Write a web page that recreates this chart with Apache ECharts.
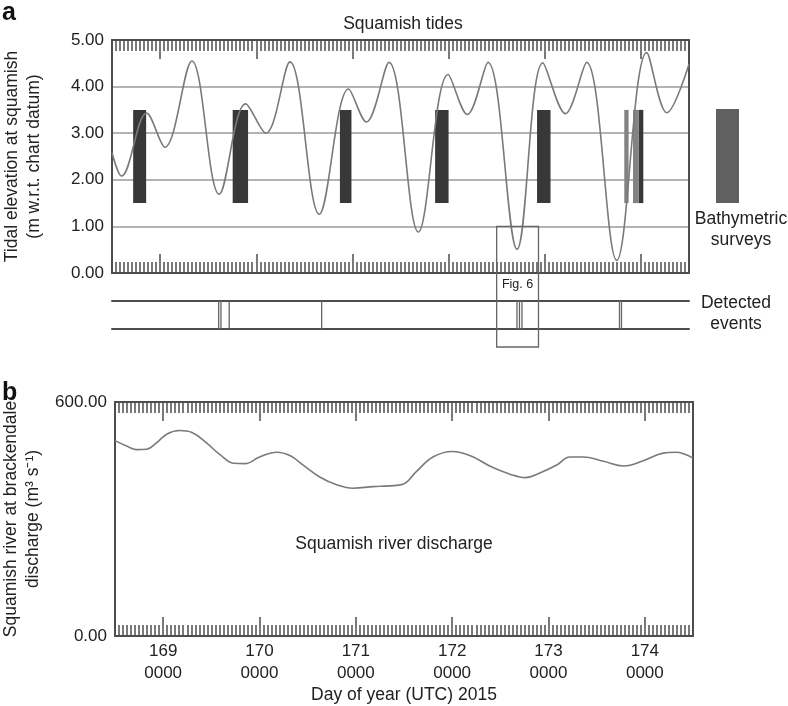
<!DOCTYPE html>
<html>
<head>
<meta charset="utf-8">
<title>Squamish tides</title>
<script src="https://cdn.jsdelivr.net/npm/echarts@6/dist/echarts.min.js"></script>
<style>
  html, body { margin: 0; padding: 0; background: #fff; }
  #chart { width: 788px; height: 706px; }
</style>
</head>
<body>
<div id="chart"></div>
<script>
// tide highs and lows (day of year, metres)
const tideDay = [168.50, 168.60, 168.86, 169.05, 169.33, 169.615, 169.89, 170.10, 170.35, 170.655,
  170.96, 171.145, 171.38, 171.685, 171.995, 172.195, 172.41, 172.712, 172.98, 173.215,
  173.435, 173.748, 174.06, 174.27, 174.50];
const tideLevel = [2.58, 2.08, 3.43, 2.70, 4.55, 1.69, 3.63, 3.00, 4.53, 1.26,
  3.95, 3.24, 4.52, 0.88, 4.26, 3.40, 4.52, 0.51, 4.51, 3.42,
  4.52, 0.27, 4.73, 3.44, 4.48];

// river discharge (m3/s)
const riverDay = [168.5, 168.62, 168.72, 168.83, 168.93, 169.04, 169.17, 169.3, 169.45, 169.59,
  169.73, 169.85, 170.0, 170.18, 170.32, 170.45, 170.63, 170.8, 170.97, 171.18,
  171.35, 171.49, 171.63, 171.8, 172.0, 172.19, 172.39, 172.6, 172.76, 172.91,
  173.09, 173.22, 173.36, 173.57, 173.78, 173.99, 174.19, 174.32, 174.5];
const riverFlow = [501, 487, 478, 479, 495, 518, 527, 522, 495, 465,
  443, 442, 459, 471, 462, 439, 407, 388, 379, 383,
  385, 389, 422, 459, 473, 462, 436, 415, 406, 418,
  439, 459, 459, 448, 436, 450, 469, 471, 456];

// bathymetric surveys (start / end day)
const surveyStart = [168.72, 169.755, 170.87, 171.86, 172.92, 173.975];
const surveyEnd = [168.855, 169.915, 170.99, 172.0, 173.06, 174.025];
const partialStart = [173.827, 173.918];
const partialEnd = [173.872, 173.975];

// detected events
const eventDay = [169.609, 169.633, 169.719, 170.68, 172.711, 172.737, 172.763, 173.777, 173.798];
const fig6Window = [172.5, 172.935];

// axis ticks
const dayTicks = [169, 170, 171, 172, 173, 174];
const dayTickLabels = ['169\n0000', '170\n0000', '171\n0000', '172\n0000', '173\n0000', '174\n0000'];
const dayMin = 168.5, dayMax = 174.5;

const FONT = "'Liberation Sans', Arial, sans-serif";
const INK = '#222';
const FRAME = '#4d4d4d';
const SURVEY_LOW = 1.5, SURVEY_HIGH = 3.5;

const hourTicks = [];
for (let k = 0; k <= 144; k++) hourTicks.push(dayMin + k / 24);

function xFrame(grid, position, ticks, len, showLine) {
    return {
        type: 'value', gridIndex: grid, position: position, min: dayMin, max: dayMax,
        axisLine: { show: showLine, onZero: false, lineStyle: { color: FRAME, width: 2 } },
        axisTick: ticks ? { show: true, inside: true, length: len, customValues: ticks,
            lineStyle: { color: FRAME, width: 1.5 } } : { show: false },
        axisLabel: { show: false },
        splitLine: { show: false }
    };
}

function rightFrame(grid) {
    return {
        type: 'value', gridIndex: grid, position: 'right',
        axisLine: { show: true, onZero: false, lineStyle: { color: FRAME, width: 2 } },
        axisTick: { show: false }, axisLabel: { show: false }, splitLine: { show: false }
    };
}

function surveyRenderer(fill) {
    return function (params, api) {
        const a = api.coord([api.value(0), SURVEY_HIGH]);
        const b = api.coord([api.value(1), SURVEY_LOW]);
        return { type: 'rect', shape: { x: a[0], y: a[1], width: b[0] - a[0], height: b[1] - a[1] },
            style: { fill: fill } };
    };
}

const bottomLabelAxis = xFrame(2, 'bottom', hourTicks, 11, true);
bottomLabelAxis.axisLabel = {
    show: true, customValues: dayTicks,
    formatter: function (v) { return dayTickLabels[dayTicks.indexOf(Math.round(v))]; },
    fontSize: 17, lineHeight: 22, margin: 4, color: INK, fontFamily: FONT
};
bottomLabelAxis.name = 'Day of year (UTC) 2015';
bottomLabelAxis.nameLocation = 'middle';
bottomLabelAxis.nameGap = 50;
bottomLabelAxis.nameTextStyle = { fontSize: 17.5, color: INK, fontFamily: FONT };

const option = {
    animation: false,
    backgroundColor: '#fff',
    textStyle: { fontFamily: FONT },
    grid: [
        { left: 112, top: 40, width: 577, height: 233, containLabel: false, outerBoundsMode: 'none' },
        { left: 112, top: 301, width: 577, height: 28, containLabel: false, outerBoundsMode: 'none' },
        { left: 115, top: 402, width: 578, height: 234, containLabel: false, outerBoundsMode: 'none' }
    ],
    xAxis: [
        xFrame(0, 'bottom', hourTicks, 11, true),
        xFrame(0, 'bottom', dayTicks, 19, false),
        xFrame(0, 'top', hourTicks, 11, true),
        xFrame(0, 'top', dayTicks, 19, false),
        xFrame(1, 'bottom', null, 0, true),
        xFrame(1, 'top', null, 0, true),
        bottomLabelAxis,
        xFrame(2, 'bottom', dayTicks, 19, false),
        xFrame(2, 'top', hourTicks, 11, true),
        xFrame(2, 'top', dayTicks, 19, false)
    ],
    yAxis: [
        {
            type: 'value', gridIndex: 0, min: 0, max: 5, interval: 1,
            name: 'Tidal elevation at squamish\n(m w.r.t. chart datum)',
            nameLocation: 'middle', nameGap: 67,
            nameTextStyle: { fontSize: 17.5, lineHeight: 22, color: INK, fontFamily: FONT },
            axisLine: { show: true, onZero: false, lineStyle: { color: FRAME, width: 2 } },
            axisTick: { show: false },
            axisLabel: { fontSize: 17, color: INK, margin: 8, fontFamily: FONT,
                formatter: function (v) { return v.toFixed(2); } },
            splitLine: { show: true, lineStyle: { color: '#9a9a9a', width: 1.5 } }
        },
        rightFrame(0),
        { type: 'value', gridIndex: 1, min: 0, max: 1, show: false },
        {
            type: 'value', gridIndex: 2, min: 0, max: 600, interval: 600,
            name: 'Squamish river at brackendale\ndischarge (m³ s⁻¹)',
            nameLocation: 'middle', nameGap: 70,
            nameTextStyle: { fontSize: 17.5, lineHeight: 22, color: INK, fontFamily: FONT },
            axisLine: { show: true, onZero: false, lineStyle: { color: FRAME, width: 2 } },
            axisTick: { show: false },
            axisLabel: { fontSize: 17, color: INK, margin: 8, fontFamily: FONT,
                formatter: function (v) { return v.toFixed(2); } },
            splitLine: { show: false }
        },
        rightFrame(2)
    ],
    series: [
        {
            name: 'Bathymetric surveys', type: 'custom', xAxisIndex: 0, yAxisIndex: 0, z: 1,
            renderItem: surveyRenderer('#383838'),
            data: surveyStart.map(function (s, i) { return [s, surveyEnd[i]]; })
        },
        {
            name: 'Partial surveys', type: 'custom', xAxisIndex: 0, yAxisIndex: 0, z: 1,
            renderItem: surveyRenderer('#828282'),
            data: partialStart.map(function (s, i) { return [s, partialEnd[i]]; })
        },
        {
            name: 'Squamish tides', type: 'line', xAxisIndex: 0, yAxisIndex: 0, z: 3,
            showSymbol: false, smooth: 0.36,
            lineStyle: { color: '#7a7a7a', width: 1.6 },
            data: tideDay.map(function (d, i) { return [d, tideLevel[i]]; })
        },
        {
            name: 'Detected events', type: 'custom', xAxisIndex: 4, yAxisIndex: 2,
            renderItem: function (params, api) {
                const a = api.coord([api.value(0), 0]);
                const b = api.coord([api.value(0), 1]);
                return { type: 'line', shape: { x1: a[0], y1: a[1], x2: b[0], y2: b[1] },
                    style: { stroke: '#666', lineWidth: 1.3 } };
            },
            data: eventDay.map(function (d) { return [d]; })
        },
        {
            name: 'Squamish river discharge', type: 'line', xAxisIndex: 6, yAxisIndex: 3,
            showSymbol: false, smooth: 0.4,
            lineStyle: { color: '#7a7a7a', width: 1.6 },
            data: riverDay.map(function (d, i) { return [d, riverFlow[i]]; })
        }
    ],
    graphic: [
        { type: 'text', id: 'tagA', x: 2, y: 13,
          style: { text: 'a', fontSize: 25, fontWeight: 'bold', fontFamily: FONT, fill: '#111',
                   align: 'left', verticalAlign: 'middle', textAlign: 'left', textVerticalAlign: 'middle' } },
        { type: 'text', id: 'tagB', x: 2, y: 393,
          style: { text: 'b', fontSize: 25, fontWeight: 'bold', fontFamily: FONT, fill: '#111',
                   align: 'left', verticalAlign: 'middle', textAlign: 'left', textVerticalAlign: 'middle' } },
        { type: 'text', id: 'title', x: 403, y: 24,
          style: { text: 'Squamish tides', fontSize: 17.5, fontFamily: FONT, fill: INK,
                   align: 'center', verticalAlign: 'middle', textAlign: 'center', textVerticalAlign: 'middle' } },
        { type: 'rect', id: 'surveySwatch', shape: { x: 716, y: 109, width: 23, height: 94 },
          style: { fill: '#606060' } },
        { type: 'text', id: 'surveyText', x: 741, y: 230,
          style: { text: 'Bathymetric\nsurveys', fontSize: 17.5, lineHeight: 21, fontFamily: FONT, fill: INK,
                   align: 'center', verticalAlign: 'middle', textAlign: 'center', textVerticalAlign: 'middle' } },
        { type: 'text', id: 'eventText', x: 736, y: 314,
          style: { text: 'Detected\nevents', fontSize: 17.5, lineHeight: 21, fontFamily: FONT, fill: INK,
                   align: 'center', verticalAlign: 'middle', textAlign: 'center', textVerticalAlign: 'middle' } },
        { type: 'text', id: 'riverText', x: 394, y: 544,
          style: { text: 'Squamish river discharge', fontSize: 17.5, fontFamily: FONT, fill: INK,
                   align: 'center', verticalAlign: 'middle', textAlign: 'center', textVerticalAlign: 'middle' } }
    ]
};

const chart = echarts.init(document.getElementById('chart'));
chart.setOption(option);

// "Fig. 6" window box, placed from the axis scales
const bx0 = chart.convertToPixel({ xAxisIndex: 0 }, fig6Window[0]);
const bx1 = chart.convertToPixel({ xAxisIndex: 0 }, fig6Window[1]);
const byTop = chart.convertToPixel({ yAxisIndex: 0 }, 1);
const byBottom = chart.convertToPixel({ yAxisIndex: 2 }, 0) + 18;
chart.setOption({
    graphic: [
        { type: 'rect', id: 'fig6Box', z: 10,
          shape: { x: bx0, y: byTop, width: bx1 - bx0, height: byBottom - byTop },
          style: { fill: 'none', stroke: '#666', lineWidth: 1.3 } },
        { type: 'text', id: 'fig6Text', x: (bx0 + bx1) / 2, y: 285, z: 10,
          style: { text: 'Fig. 6', fontSize: 12.5, fontFamily: FONT, fill: INK,
                   align: 'center', verticalAlign: 'middle', textAlign: 'center', textVerticalAlign: 'middle' } }
    ]
});

window.addEventListener('resize', function () {
    chart.resize();
});
</script>
</body>
</html>
